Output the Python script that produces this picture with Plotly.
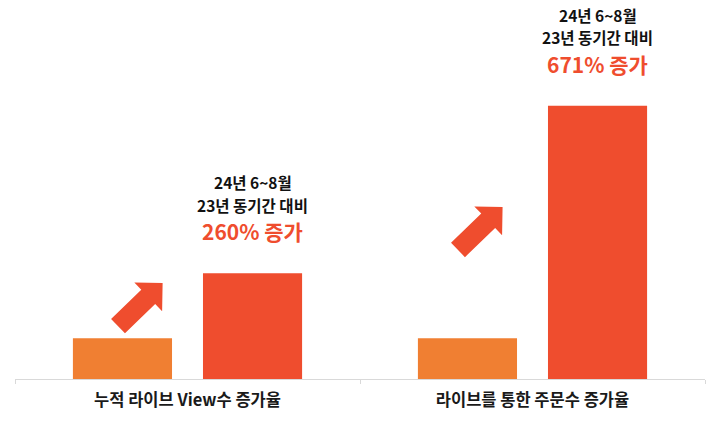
import math
import plotly.graph_objects as go

categories = ["누적 라이브 View수 증가율", "라이브를 통한 주문수 증가율"]
series_names = ["23년 6~8월", "24년 6~8월"]
values_23 = [100, 100]
values_24 = [260, 671]
increase_labels = ["260% 증가", "671% 증가"]
note_line1 = "24년 6~8월"
note_line2 = "23년 동기간 대비"

COL_23 = "#F07F32"
COL_24 = "#EF4D2E"
FONT = "Noto Sans CJK KR"

fig = go.Figure()
fig.add_trace(go.Bar(name=series_names[0], x=categories, y=values_23,
                     marker=dict(color=COL_23, line=dict(width=0))))
fig.add_trace(go.Bar(name=series_names[1], x=categories, y=values_24,
                     marker=dict(color=COL_24, line=dict(width=0))))

bargap = 0.246
slot = (1 - bargap) / 2
off24 = slot / 2

annotations = []
for i, (v, lab) in enumerate(zip(values_24, increase_labels)):
    xc = i + off24
    annotations.append(dict(x=xc, y=v, xref="x", yref="y", text=lab, showarrow=False,
                            yanchor="middle", yshift=42, borderpad=0,
                            font=dict(family=FONT, size=21, color=COL_24, weight=700)))
    annotations.append(dict(x=xc, y=v, xref="x", yref="y", text=note_line2, showarrow=False,
                            yanchor="middle", yshift=68.5, borderpad=0,
                            font=dict(family=FONT, size=15.5, color="#111111", weight=600)))
    annotations.append(dict(x=xc, y=v, xref="x", yref="y", text=note_line1, showarrow=False,
                            yanchor="middle", yshift=91, borderpad=0,
                            font=dict(family=FONT, size=15.5, color="#111111", weight=600)))


def arrow_path(length=62, shaft_w=20, head_w=40, head_len=20, angle_deg=45):
    """Block arrow polygon in pixels relative to tail centre (y up)."""
    a = math.radians(angle_deg)
    dx, dy = math.cos(a), math.sin(a)
    nx, ny = -dy, dx
    s = length - head_len
    pts = [(-nx * shaft_w / 2, -ny * shaft_w / 2),
           (dx * s - nx * shaft_w / 2, dy * s - ny * shaft_w / 2),
           (dx * s - nx * head_w / 2, dy * s - ny * head_w / 2),
           (dx * length, dy * length),
           (dx * s + nx * head_w / 2, dy * s + ny * head_w / 2),
           (dx * s + nx * shaft_w / 2, dy * s + ny * shaft_w / 2),
           (nx * shaft_w / 2, ny * shaft_w / 2)]
    return "M" + " L".join(f"{x:.2f},{y:.2f}" for x, y in pts) + " Z"


# tail anchors of the decorative arrows (category index, value units)
arrow_tails = [(-0.2014, 130), (0.784, 317)]
shapes = []
for (tx, ty) in arrow_tails:
    shapes.append(dict(type="path", xref="x", yref="y", xsizemode="pixel", ysizemode="pixel",
                       xanchor=tx, yanchor=ty, path=arrow_path(angle_deg=44),
                       fillcolor=COL_24, line=dict(width=0), layer="above"))

fig.update_layout(
    width=720, height=421,
    margin=dict(l=15, r=15, t=0, b=42),
    paper_bgcolor="white", plot_bgcolor="white",
    barmode="group", bargap=bargap, bargroupgap=0.238,
    showlegend=False,
    annotations=annotations,
    shapes=shapes,
    font=dict(family=FONT),
)
fig.update_xaxes(showline=True, linecolor="#d9d9d9", linewidth=1,
                 ticks="outside", tickson="boundaries", ticklen=4, tickcolor="#d9d9d9",
                 ticklabelstandoff=6,
                 tickfont=dict(family=FONT, size=16.5, color="#1a1a1a", weight=600),
                 showgrid=False, zeroline=False)
fig.update_yaxes(range=[0, 931], visible=False, showgrid=False, zeroline=False)

fig.write_html("out.html")
